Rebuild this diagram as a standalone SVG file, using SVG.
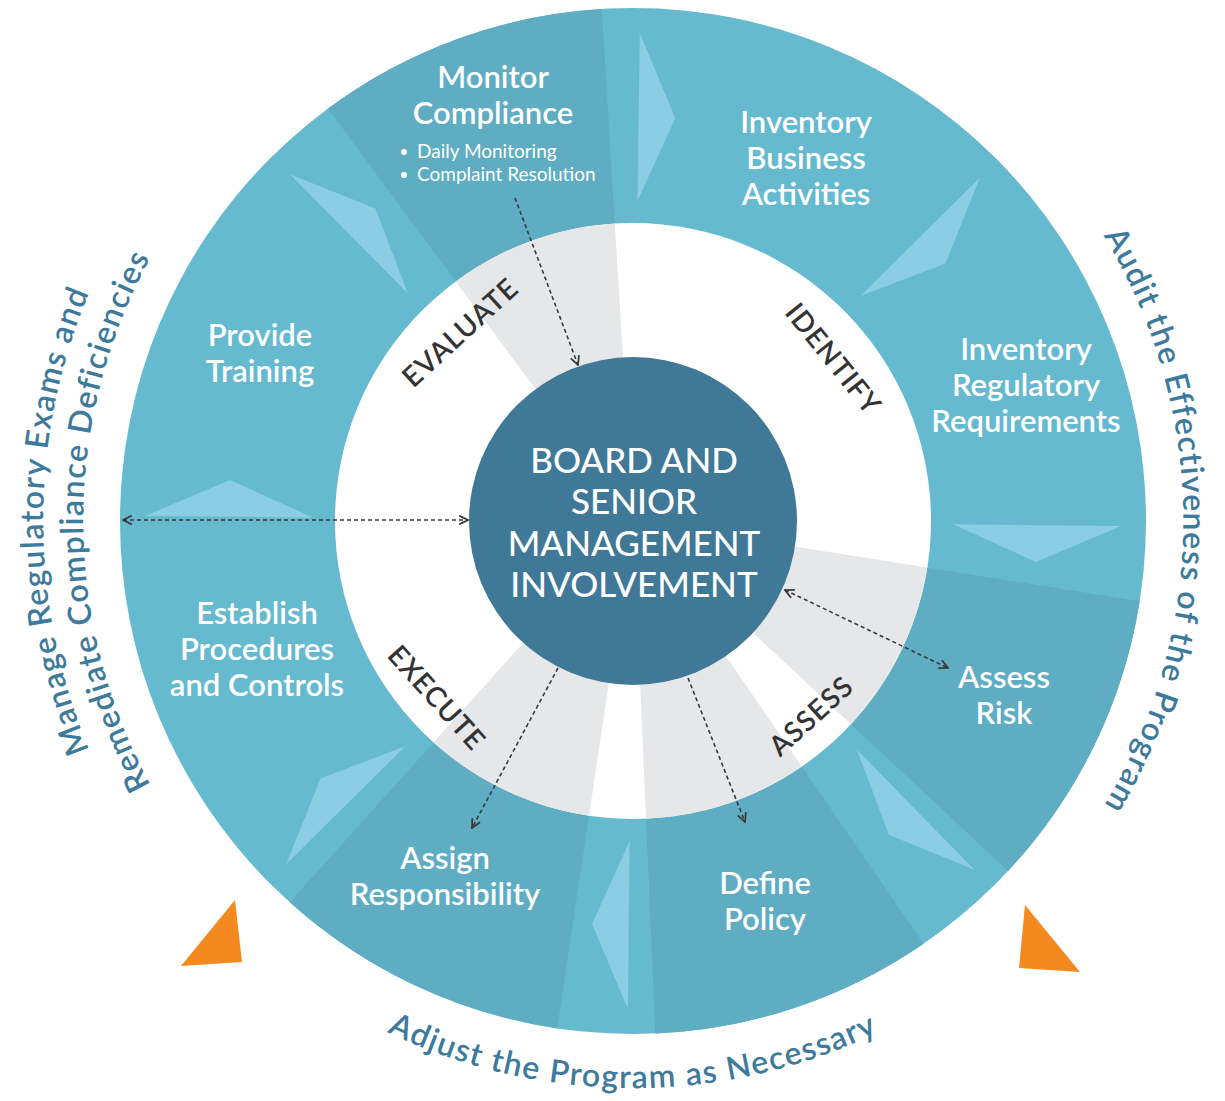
<svg xmlns="http://www.w3.org/2000/svg" xmlns:xlink="http://www.w3.org/1999/xlink" width="1225" height="1101" viewBox="0 0 1225 1101">
  <style>
    .lbl { font-family: Lato, "Liberation Sans", sans-serif; font-size: 31px; font-weight: 600; fill: #ffffff; text-anchor: middle; }
    .bul { font-family: Lato, "Liberation Sans", sans-serif; font-size: 19px; font-weight: 400; fill: #ffffff; }
    .phase { font-family: Lato, "Liberation Sans", sans-serif; font-size: 28px; font-weight: 600; fill: #333333; text-anchor: middle; dominant-baseline: central; letter-spacing: 1px; }
    .core { font-family: Lato, "Liberation Sans", sans-serif; font-size: 35px; font-weight: 500; fill: #ffffff; text-anchor: middle; }
    .arc { font-family: Lato, "Liberation Sans", sans-serif; font-size: 32px; font-weight: 600; fill: #3d7a9b; text-anchor: middle; letter-spacing: 1.4px; }
    .light { fill: #66bacf; }
    .dark { fill: #5eadc2; }
    .gray { fill: #e6e7e9; }
    .chev { fill: #8acde5; }
    .orange { fill: #f48a1f; }
    .link { fill: none; stroke: #3a3a3a; stroke-width: 1.6; stroke-dasharray: 4 3; }
  </style>
  <defs>
    <marker id="ah" viewBox="0 0 10 10" refX="9" refY="5" markerWidth="11" markerHeight="11" markerUnits="userSpaceOnUse" orient="auto-start-reverse">
      <path d="M1,1 L9,5 L1,9" fill="none" stroke="#3a3a3a" stroke-width="1.6"/>
    </marker>
    <!-- one chevron pointing clockwise, drawn at angle 0 around the wheel centre -->
    <polygon id="chevron" class="chev" points="320,0 488,0 403.3,36.7"/>
    <path id="arcRight" d="M728.5,-20.7 A550,550 0 0 1 728.5,1062.7"/>
    <path id="arcLeftIn" d="M537.5,1062.6 A550,550 0 0 1 537.5,-20.6"/>
    <path id="arcLeftOut" d="M530.5,1102.0 A590,590 0 0 1 530.5,-60.0"/>
    <path id="arcBottom" d="M74.6,619.5 A567,567 0 0 0 1191.4,619.5"/>
  </defs>

  <rect width="1225" height="1101" fill="#ffffff"/>

  <!-- outer ring: light base with darker step sectors -->
  <g id="wheel">
    <circle class="light" cx="633" cy="521" r="513"/>
    <path class="dark" d="M633,521 L327.9,108.6 A513,513 0 0 1 601.7,9.0 Z"/>
    <path class="dark" d="M633,521 L1139.7,601.2 A513,513 0 0 1 1008.2,870.9 Z"/>
    <path class="dark" d="M633,521 L923.6,943.8 A513,513 0 0 1 655.4,1033.5 Z"/>
    <path class="dark" d="M633,521 L557.2,1028.4 A513,513 0 0 1 289.8,902.2 Z"/>
    <g transform="translate(633,521)">
      <use xlink:href="#chevron" transform="rotate(0.6)"/>
      <use xlink:href="#chevron" transform="rotate(45.6)"/>
      <use xlink:href="#chevron" transform="rotate(90.6)"/>
      <use xlink:href="#chevron" transform="rotate(135.3)"/>
      <use xlink:href="#chevron" transform="rotate(180.6)"/>
      <use xlink:href="#chevron" transform="rotate(225.3)"/>
      <use xlink:href="#chevron" transform="rotate(270.8)"/>
      <use xlink:href="#chevron" transform="rotate(315.3)"/>
    </g>
    <!-- inner phase ring -->
    <circle cx="633" cy="521" r="298" fill="#ffffff"/>
    <path class="gray" d="M633,521 L455.7,281.4 A298,298 0 0 1 614.8,223.6 Z"/>
    <path class="gray" d="M633,521 L927.3,567.6 A298,298 0 0 1 851.0,724.2 Z"/>
    <path class="gray" d="M633,521 L801.8,766.6 A298,298 0 0 1 646.0,818.7 Z"/>
    <path class="gray" d="M633,521 L589.0,815.7 A298,298 0 0 1 433.6,742.4 Z"/>
  </g>

  <g id="phase-labels">
    <text class="phase" transform="translate(633,521) rotate(-132.5) translate(257,0) rotate(90)">EVALUATE</text>
    <text class="phase" transform="translate(633,521) rotate(-39) translate(259,0) rotate(90)">IDENTIFY</text>
    <text class="phase" transform="translate(633,521) rotate(47.6) translate(263,0) rotate(-90)">ASSESS</text>
    <text class="phase" transform="translate(633,521) rotate(138) translate(263,0) rotate(-90)">EXECUTE</text>
  </g>

  <g id="node-core">
    <circle cx="633" cy="521" r="164" fill="#407897"/>
    <text class="core" x="634" y="473">BOARD AND</text>
    <text class="core" x="634" y="514">SENIOR</text>
    <text class="core" x="634" y="556">MANAGEMENT</text>
    <text class="core" x="634" y="597">INVOLVEMENT</text>
  </g>

  <g id="node-monitor">
    <text class="lbl" x="493" y="88">Monitor</text>
    <text class="lbl" x="493" y="124">Compliance</text>
    <circle cx="404" cy="152" r="3" fill="#ffffff"/>
    <circle cx="404" cy="175" r="3" fill="#ffffff"/>
    <text class="bul" x="417" y="158">Daily Monitoring</text>
    <text class="bul" x="417" y="181">Complaint Resolution</text>
  </g>
  <g id="node-inventory-business">
    <text class="lbl" x="806" y="133">Inventory</text>
    <text class="lbl" x="806" y="169">Business</text>
    <text class="lbl" x="806" y="205">Activities</text>
  </g>
  <g id="node-inventory-regulatory">
    <text class="lbl" x="1026" y="360">Inventory</text>
    <text class="lbl" x="1026" y="396">Regulatory</text>
    <text class="lbl" x="1026" y="432">Requirements</text>
  </g>
  <g id="node-assess-risk">
    <text class="lbl" x="1004" y="688">Assess</text>
    <text class="lbl" x="1004" y="724">Risk</text>
  </g>
  <g id="node-define-policy">
    <text class="lbl" x="765" y="894">Define</text>
    <text class="lbl" x="765" y="930">Policy</text>
  </g>
  <g id="node-assign">
    <text class="lbl" x="445" y="869">Assign</text>
    <text class="lbl" x="445" y="905">Responsibility</text>
  </g>
  <g id="node-procedures">
    <text class="lbl" x="257" y="624">Establish</text>
    <text class="lbl" x="257" y="660">Procedures</text>
    <text class="lbl" x="257" y="696">and Controls</text>
  </g>
  <g id="node-training">
    <text class="lbl" x="260" y="346">Provide</text>
    <text class="lbl" x="260" y="382">Training</text>
  </g>

  <g id="connectors">
    <line class="link" x1="515" y1="198" x2="578" y2="365" marker-end="url(#ah)"/>
    <line class="link" x1="123" y1="520" x2="468" y2="520" marker-start="url(#ah)" marker-end="url(#ah)"/>
    <line class="link" x1="785" y1="590" x2="948" y2="668" marker-start="url(#ah)" marker-end="url(#ah)"/>
    <line class="link" x1="558" y1="668" x2="472" y2="828" marker-end="url(#ah)"/>
    <line class="link" x1="688" y1="678" x2="745" y2="822" marker-end="url(#ah)"/>
  </g>

  <g id="cycle-notes">
    <text class="arc"><textPath xlink:href="#arcRight" startOffset="50%">Audit the Effectiveness of the Program</textPath></text>
    <text class="arc"><textPath xlink:href="#arcBottom" startOffset="50%">Adjust the Program as Necessary</textPath></text>
    <text class="arc"><textPath xlink:href="#arcLeftOut" startOffset="50%">Manage Regulatory Exams and</textPath></text>
    <text class="arc"><textPath xlink:href="#arcLeftIn" startOffset="50%">Remediate Compliance Deficiencies</textPath></text>
    <polygon class="orange" points="235,900 242,962 181,966"/>
    <polygon class="orange" points="1025,905 1080,972 1019,968"/>
  </g>
</svg>
